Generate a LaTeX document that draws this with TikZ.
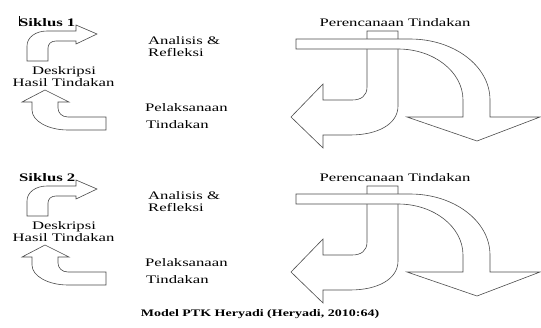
\documentclass[tikz,border=0pt]{standalone}
\usepackage{fontspec}
\setmainfont{Liberation Serif}
\usepackage{graphicx}
\newcommand\sx[1]{\scalebox{1.45}[1]{#1}}
\newcommand\sxc[1]{\scalebox{1.4}[1]{#1}}
\tikzset{
  lbl/.style={inner sep=0pt, font=\fontsize{11.5}{13}\selectfont},
  blbl/.style={inner sep=0pt, font=\fontsize{11.5}{13}\selectfont\bfseries},
  arr/.style={draw=black!70, fill=white, line width=0.6pt, line join=miter}
}
\newcommand\drawpanel[2]{%
  % left small arrows
  \draw[arr] (27,61) -- (27,46) .. controls (27,37) and (36,31) .. (47,31)
    -- (76,31) -- (76,25) -- (97,34) -- (76,44) -- (76,41) -- (56,41)
    .. controls (51,41) and (48,44) .. (48,48) -- (48,61) -- cycle;
  \draw[arr] (106,117) -- (68,117) .. controls (62,117) and (58,113) .. (58,108)
    -- (58,102) -- (69,102) -- (45,90) -- (22,102) -- (32,102) -- (32,110)
    .. controls (32,121) and (48,130) .. (68,130) -- (106,130) -- cycle;
  % J arrow (down then left)
  \draw[arr] (367,31) -- (398,31) -- (398,106) .. controls (398,124) and (378,135) .. (350,135)
    -- (323,135) -- (323,148) -- (291,117) -- (323,84) -- (323,100) -- (352,100)
    .. controls (361,100) and (367,96) .. (367,87) -- cycle;
  % curved arrow (right then down)
  \draw[arr] (296,39) -- (410,39) .. controls (454,39) and (490,66) .. (490,100)
    -- (490,117) -- (540,117) -- (477,141) -- (407,117) -- (463,117) -- (463,100)
    .. controls (463,72) and (434,49) .. (398,49) -- (296,49) -- cycle;
  % texts
  \node[blbl, anchor=base west] (siklus#1) at (19,26) {\sx{Siklus #2}};
  \node[lbl, anchor=base west] (analisis#1) at (148,44) {\sx{Analisis \&}};
  \node[lbl, anchor=base west] (refleksi#1) at (148,56) {\sx{Refleksi}};
  \node[lbl, anchor=base] (deskripsi#1) at (64,74) {\sx{Deskripsi}};
  \node[lbl, anchor=base] (hasil#1) at (63.5,86) {\sx{Hasil Tindakan}};
  \node[lbl, anchor=base west] (pelaksanaan#1) at (145,111) {\sx{Pelaksanaan}};
  \node[lbl, anchor=base west] (tindakan#1) at (146,128) {\sx{Tindakan}};
  \node[lbl, anchor=base] (perencanaan#1) at (395,26) {\sx{Perencanaan Tindakan}};
}
\begin{document}
\begin{tikzpicture}[x=1pt,y=-1pt]
\useasboundingbox (0,0) rectangle (541,327);
\drawpanel{a}{1}
\begin{scope}[shift={(0,155)}]
\drawpanel{b}{2}
\end{scope}
\coordinate (curtop) at (19,16);
\coordinate (curbot) at (19,26);
\draw[line width=0.8pt] (curtop) -- (curbot);
\node[inner sep=0pt, anchor=base, font=\fontsize{10}{12}\selectfont\bfseries] (caption) at (260,316)
  {\sxc{Model PTK Heryadi (Heryadi, 2010:64)}};
\end{tikzpicture}
\end{document}
